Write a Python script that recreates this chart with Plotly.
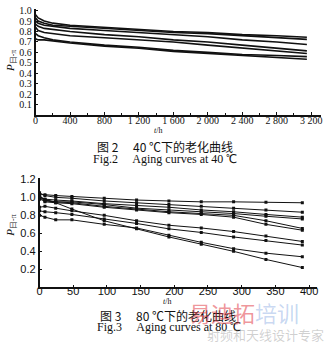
import plotly.graph_objects as go

W, H = 330, 346

# ---------- Fig.2 : 40 C ageing (t in h) ----------
t40 = [0, 30, 100, 200, 400, 800, 1200, 1600, 2000, 2400, 2800, 3150]
c40_1 = [0.96, 0.93, 0.90, 0.88, 0.86, 0.84, 0.82, 0.80, 0.79, 0.77, 0.76, 0.745]
c40_2 = [0.93, 0.90, 0.88, 0.86, 0.85, 0.83, 0.81, 0.79, 0.78, 0.76, 0.745, 0.725]
c40_3 = [0.90, 0.88, 0.86, 0.85, 0.83, 0.81, 0.79, 0.77, 0.75, 0.72, 0.70, 0.675]
c40_4 = [0.87, 0.85, 0.83, 0.82, 0.80, 0.77, 0.75, 0.72, 0.70, 0.67, 0.64, 0.615]
c40_5 = [0.84, 0.81, 0.79, 0.78, 0.76, 0.74, 0.72, 0.70, 0.67, 0.64, 0.61, 0.59]
c40_6 = [0.78, 0.76, 0.74, 0.72, 0.70, 0.67, 0.65, 0.62, 0.60, 0.58, 0.57, 0.56]
c40_7 = [0.73, 0.72, 0.72, 0.71, 0.69, 0.66, 0.64, 0.61, 0.59, 0.57, 0.55, 0.535]
x1_ticks = [0, 400, 800, 1200, 1600, 2000, 2400, 2800, 3200]
x1_labels = ["0", "400", "800", "1 200", "1 600", "2 000", "2 400", "2 800", "3 200"]
y1_ticks = [0.1, 0.2, 0.3, 0.4, 0.5, 0.6, 0.7, 0.8, 0.9, 1.0]
y1_labels = ["0.1", "0.2", "0.3", "0.4", "0.5", "0.6", "0.7", "0.8", "0.9", "1.0"]

# ---------- Fig.3 : 80 C ageing ----------
t80 = [0, 8, 24, 48, 96, 144, 192, 240, 288, 336, 390]
c80_a = [1.03, 1.03, 1.02, 1.01, 0.99, 0.97, 0.96, 0.95, 0.95, 0.945, 0.94]
c80_b = [1.05, 1.02, 1.00, 0.99, 0.96, 0.94, 0.92, 0.90, 0.88, 0.86, 0.835]
c80_c = [1.00, 0.98, 0.97, 0.96, 0.93, 0.91, 0.89, 0.86, 0.84, 0.81, 0.78]
c80_d = [1.02, 0.97, 0.95, 0.95, 0.92, 0.88, 0.86, 0.84, 0.82, 0.79, 0.76]
c80_e = [0.98, 0.96, 0.95, 0.94, 0.90, 0.87, 0.84, 0.82, 0.80, 0.74, 0.655]
c80_f = [1.00, 0.95, 0.94, 0.93, 0.89, 0.86, 0.83, 0.81, 0.78, 0.70, 0.635]
c80_g = [0.89, 0.90, 0.88, 0.85, 0.80, 0.74, 0.69, 0.66, 0.62, 0.57, 0.51]
c80_h = [0.85, 0.84, 0.83, 0.81, 0.76, 0.71, 0.65, 0.61, 0.56, 0.52, 0.47]
c80_i = [0.80, 0.78, 0.75, 0.75, 0.70, 0.66, 0.58, 0.50, 0.43, 0.38, 0.34]
c80_j = [1.00, 0.98, 0.94, 0.87, 0.74, 0.65, 0.56, 0.48, 0.40, 0.31, 0.22]
x2_ticks = [0, 50, 100, 150, 200, 250, 300, 350, 400]
y2_ticks = [0.2, 0.4, 0.6, 0.8, 1.0, 1.2]
y2_labels = ["0.2", "0.4", "0.6", "0.8", "1.0", "1.2"]

def py(p):
    return 1 - p / H

fig = go.Figure()
for c in [c40_1, c40_2, c40_3, c40_4, c40_5, c40_6, c40_7]:
    fig.add_trace(go.Scatter(x=t40, y=c, mode="lines", xaxis="x", yaxis="y",
                             line=dict(color="#111", width=1.6), showlegend=False))
for c in [c80_a, c80_b, c80_c, c80_d, c80_e, c80_f, c80_g, c80_h, c80_i, c80_j]:
    fig.add_trace(go.Scatter(x=t80, y=c, mode="lines+markers", xaxis="x2", yaxis="y2",
                             line=dict(color="#111", width=1),
                             marker=dict(symbol="square", size=3, color="#111"),
                             showlegend=False))

ax_common = dict(showgrid=False, zeroline=False, showline=True, linecolor="#111",
                 linewidth=1.5, ticks="inside", ticklen=3, tickcolor="#111")

fig.update_layout(
    width=W, height=H, margin=dict(l=0, r=0, t=0, b=0),
    paper_bgcolor="white", plot_bgcolor="white",
    xaxis=dict(domain=[33/W, 322/W], range=[0, 3315], anchor="y",
               tickvals=x1_ticks, ticktext=x1_labels, ticklabelstandoff=-5,
               tickfont=dict(family="Liberation Serif", size=10, color="#111"),
               minor=dict(dtick=200, ticks="inside", ticklen=2, tickcolor="#111"),
               **ax_common),
    yaxis=dict(domain=[py(111.7), py(3.6)], range=[0, 1.02], anchor="x",
               tickvals=y1_ticks, ticktext=y1_labels,
               tickfont=dict(family="Liberation Serif", size=10, color="#111"),
               **ax_common),
    xaxis2=dict(domain=[37/W, 318/W], range=[0, 412], anchor="y2",
                tickvals=x2_ticks, ticklabelstandoff=-7,
                tickfont=dict(family="Liberation Sans", size=11, color="#111"),
                **ax_common),
    yaxis2=dict(domain=[py(286.5), py(176)], range=[0, 1.21], anchor="x2",
                tickvals=y2_ticks, ticktext=y2_labels,
                tickfont=dict(family="Liberation Sans", size=11, color="#111"),
                **ax_common),
)

def ann(text, x, y, size=11, family="Liberation Serif", color="#111", angle=0):
    fig.add_annotation(text=text, x=x / W, y=py(y), xref="paper", yref="paper",
                       showarrow=False, xanchor="center", yanchor="middle",
                       textangle=angle, font=dict(family=family, size=size, color=color))

# axis titles
ann("<i>P</i><sub>日-π</sub>", 8, 57, size=11, angle=-90)
ann("<i>P</i><sub>日-π</sub>", 8, 224, size=11, angle=-90)
ann("<i>t</i>/h", 157, 127, size=8)
ann("<i>t</i>/h", 166, 301, size=8)

# captions
cj = "Noto Sans CJK SC"
ann("图 2　 40 ℃下的老化曲线", 164, 144, size=12, family=cj)
ann("Fig.2　 Aging curves at 40 ℃", 164, 156, size=12)
ann("图 3　 80 ℃下的老化曲线", 167, 315, size=12, family=cj)
ann("Fig.3　 Aging curves at 80 ℃", 168, 327, size=12)

# watermark
ann("易迪拓<span style='color:rgba(70,120,210,0.55)'>培训</span>", 244, 311, size=22,
    family=cj, color="rgba(225,60,70,0.55)")
ann("射频和天线设计专家", 266, 334, size=13, family=cj, color="rgba(120,120,120,0.35)")

fig.write_html("out.html")
